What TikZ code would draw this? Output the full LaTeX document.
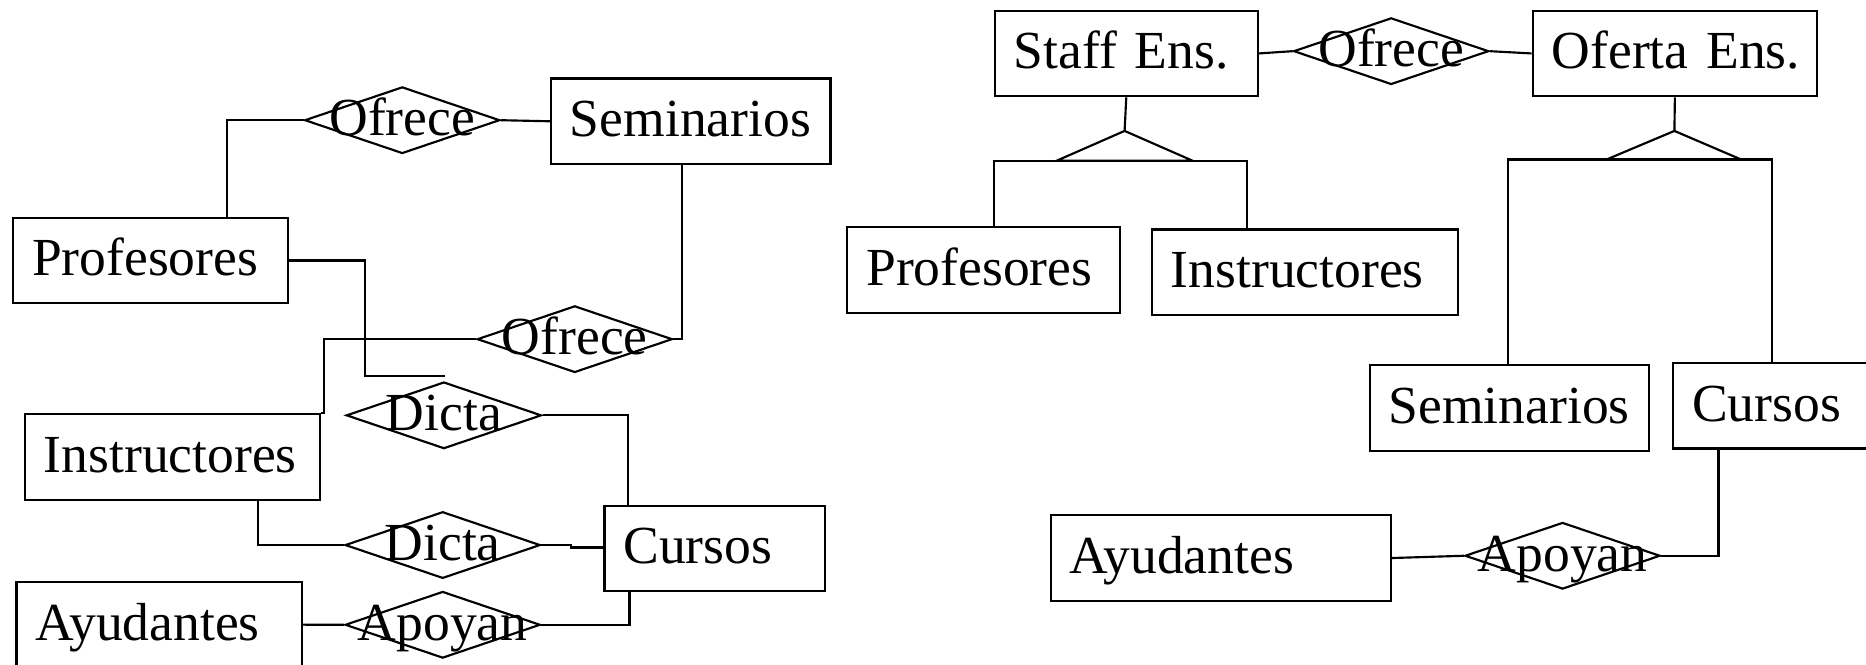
\documentclass[tikz,border=0pt]{standalone}
\usepackage{fontspec}
\setmainfont{Liberation Serif}
\usetikzlibrary{shapes.geometric}
\tikzset{
  every node/.style={font=\fontsize{45}{54}\selectfont},
  ent/.style={draw, rectangle, line width=1.8pt, anchor=north west, inner xsep=16pt, inner ysep=0pt,
    minimum height=72pt, text width=#1, align=left, text height=31pt, text depth=5pt},
  rel/.style={draw, diamond, line width=1.8pt, minimum width=164pt, minimum height=56pt, inner sep=0pt,
    label={[lbl]center:#1}},
  lbl/.style={inner sep=0pt, text height=31pt, text depth=5pt},
  conn/.style={line width=1.8pt}
}
\begin{document}
\begin{tikzpicture}[x=1pt, y=-1pt]
\useasboundingbox (0,0) rectangle (1568,558);
\clip (0,0) rectangle (1568,558);
% ---------- left diagram ----------
\node[ent=199pt] (profL) at (10,182) {Profesores};
\node[ent=203pt] (semL) at (462,65) {Seminarios};
\node[ent=216pt] (instrL) at (20,347) {Instructores};
\node[ent=153pt] (curL) at (507,424) {Cursos};
\node[ent=208pt] (ayuL) at (13,488) {Ayudantes};
\node[rel=Ofrece] (ofr1) at (338,101) {};
\node[rel=Ofrece] (ofr2) at (483,285) {};
\node[rel=Dicta] (dic1) at (373,349) {};
\node[rel=Dicta] (dic2) at (372,458) {};
\node[rel=Apoyan] (apoL) at (372,525) {};
\draw[conn] (ofr1.west) -| (191,0 |- profL.north);
\draw[conn] (ofr1.east) -- (semL.west);
\draw[conn] (573,0 |- semL.south) |- (ofr2.east);
\coordinate (dend) at (374,316);
\draw[conn] (profL.east) -| (307,316) -- (dend);
\draw[conn] (instrL.north east) -- (272,0 |- instrL.north) |- (ofr2.west);
\draw[conn] (dic1.east) -| (528,0 |- curL.north);
\draw[conn] (217,0 |- instrL.south) |- (dic2.west);
\draw[conn] (dic2.east) -- (480,458) -- (480,460) -- (curL.west |- 0,460);
\draw[conn] (ayuL.east) -- (apoL.west);
\draw[conn] (apoL.east) -| (529,0 |- curL.south);
% ---------- right diagram ----------
\node[ent=189pt] (staff) at (835,8) {Staff~Ens.};
\node[ent=207pt] (oferta) at (1287,8) {Oferta~Ens.};
\node[rel=Ofrece] (ofr3) at (1169,43) {};
\node[ent=197pt] (profR) at (711,190) {Profesores};
\node[ent=225pt] (instrR) at (967,192) {Instructores};
\node[ent=203pt] (semR) at (1150,306) {Seminarios};
\node[ent=148pt] (curR) at (1405,304) {Cursos};
\node[ent=254pt] (ayuR) at (882,432) {Ayudantes};
\node[rel=Apoyan] (apoR) at (1313,467) {};
\draw[conn] (staff.east) -- (ofr3.west);
\draw[conn] (ofr3.east) -- (oferta.west);
% ISA 1
\coordinate (isa1) at (945,110);
\draw[conn] (staff.south) -- (isa1);
\draw[conn] (isa1) -- (888,135) -- (1002,135) -- cycle;
\draw[conn] (835,0 |- profR.north) -- (835,135) -- (1048,135) -- (1048,0 |- instrR.north);
% ISA 2
\coordinate (isa2) at (1407,110);
\draw[conn] (oferta.south) -- (isa2);
\draw[conn] (isa2) -- (1350,134) -- (1463,134) -- cycle;
\draw[conn] (1267,0 |- semR.north) -- (1267,134) -- (1489,134) -- (1489,0 |- curR.north);
\draw[conn] (1444,0 |- curR.south) |- (apoR.east);
\draw[conn] (ayuR.east) -- (apoR.west);
\end{tikzpicture}
\end{document}
